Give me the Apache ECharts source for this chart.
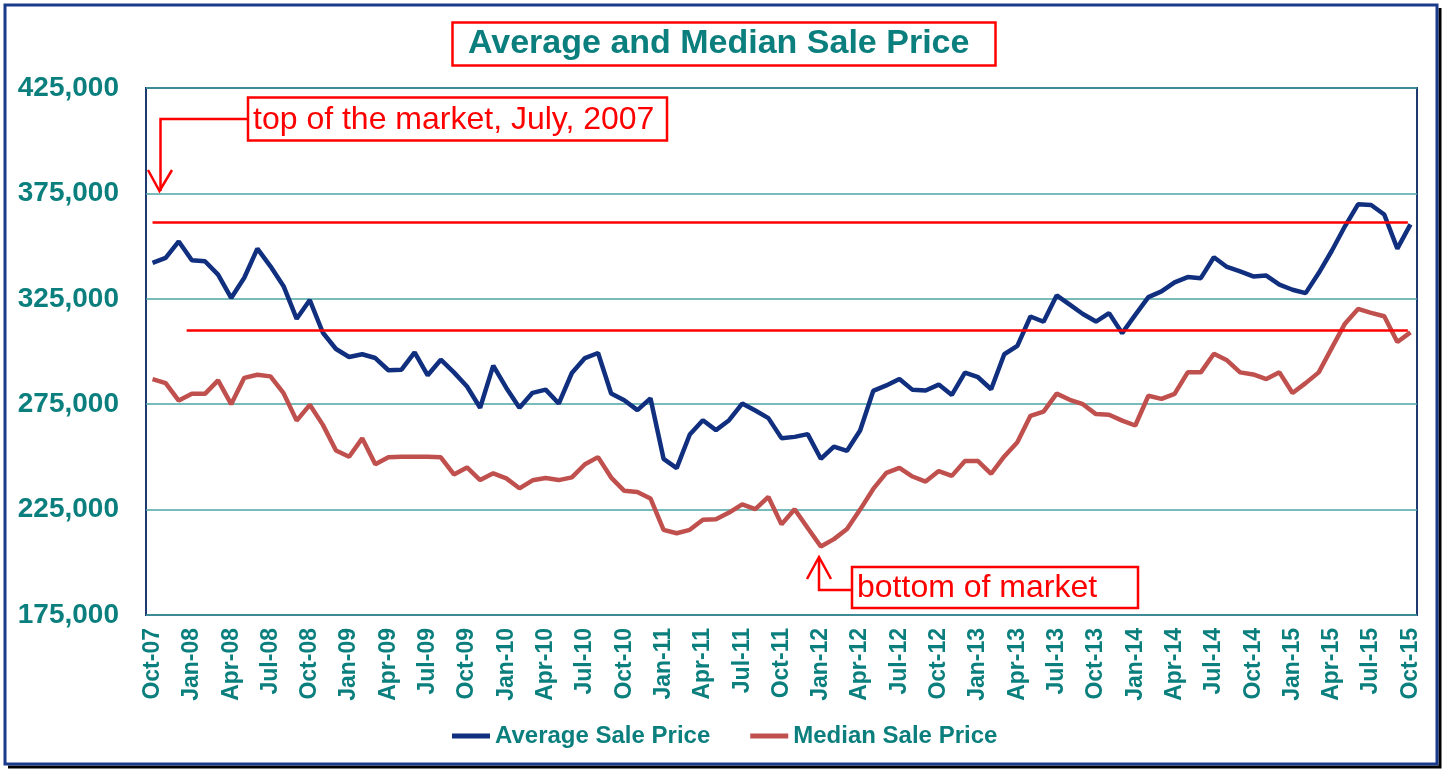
<!DOCTYPE html>
<html>
<head>
<meta charset="utf-8">
<title>Average and Median Sale Price</title>
<script src="https://cdn.jsdelivr.net/npm/echarts@6/dist/echarts.min.js"></script>
<style>
  html, body { margin: 0; padding: 0; background: #ffffff; }
  #main { width: 1444px; height: 769px; }
</style>
</head>
<body>
<div id="main"></div>
<script>
// monthly, Oct-07 .. Oct-15
var monthNames = ['Jan', 'Feb', 'Mar', 'Apr', 'May', 'Jun', 'Jul', 'Aug', 'Sep', 'Oct', 'Nov', 'Dec'];
var startYear = 2007;
var startMonth = 9;
var monthCount = 97;

var averagePrice = [
  342000, 344400, 352200, 343300, 342800, 336500, 325400, 335000, 348800, 340400,
  331000, 315500, 324400, 308900, 301200, 297400, 298700, 296900, 291100, 291400,
  299600, 288700, 296100, 290100, 283400, 273300, 293300, 282700, 273300, 280400,
  281900, 275300, 289800, 296900, 299300, 280100, 276900, 272200, 277800, 249100,
  244700, 260600, 267400, 262700, 267400, 275300, 272000, 268400, 258900, 259500,
  260800, 249100, 254900, 252900, 262500, 281300, 283900, 287000, 281800, 281500,
  284300, 279400, 290000, 287800, 282100, 298700, 302700, 316600, 314100, 326600,
  322200, 317800, 314200, 318200, 308700, 317400, 325800, 328500, 332800, 335300,
  334800, 344700, 340100, 338000, 335600, 336000, 331700, 329300, 327700, 337200,
  347800, 359400, 369800, 369500, 365000, 348800, 360300
];

var medianPrice = [
  286900, 285000, 276700, 279900, 279900, 286300, 275000, 287500, 289000, 288200,
  280200, 267200, 274700, 265200, 253000, 250100, 258800, 246500, 249800, 250100,
  250100, 250100, 249800, 241700, 245000, 239000, 242200, 239800, 235100, 238900,
  240000, 239000, 240300, 246500, 249900, 240200, 233900, 233400, 230300, 215400,
  213800, 215400, 220200, 220400, 223600, 227500, 225200, 231000, 218000, 225200,
  216300, 207500, 211000, 215800, 225000, 234800, 242400, 244800, 240700, 238300,
  243300, 241000, 248000, 248000, 242000, 250200, 257000, 269500, 271500, 280000,
  277100, 275000, 270300, 270000, 267200, 264900, 279000, 277500, 279900, 290100,
  290100, 298900, 295800, 290100, 289100, 286900, 290100, 280300, 285000, 290100,
  301700, 313200, 320200, 318300, 316700, 304500, 309100
];

// red guide lines, [month index, price]
var topLine = [[0, 361200], [95.8, 361200]];
var bottomLine = [[2.6, 310000], [95.8, 310000]];

var months = [];
for (var i = 0; i < monthCount; i++) {
  var m = (startMonth + i) % 12;
  var y = startYear + Math.floor((startMonth + i) / 12);
  months.push(monthNames[m] + '-' + String(y).slice(2));
}

var teal = '#0b7f7d';
var red = '#ff0000';

var chart = echarts.init(document.getElementById('main'));

var option = {
  backgroundColor: '#ffffff',
  animation: false,
  title: {
    text: 'Average and Median Sale Price',
    left: 452,
    top: 22,
    padding: [4, 26, 4, 16],
    borderColor: red,
    borderWidth: 2.5,
    textStyle: {
      color: teal,
      fontFamily: 'Liberation Sans, Arial, sans-serif',
      fontWeight: 'bold',
      fontSize: 34,
      lineHeight: 36
    }
  },
  legend: {
    data: ['Average Sale Price', 'Median Sale Price'],
    left: 447,
    top: 719,
    icon: 'rect',
    itemWidth: 38,
    itemHeight: 5,
    itemGap: 40,
    textStyle: {
      color: teal,
      fontFamily: 'Liberation Sans, Arial, sans-serif',
      fontWeight: 'bold',
      fontSize: 24
    }
  },
  grid: {
    left: 146,
    right: 27,
    top: 88,
    bottom: 154,
    show: true,
    borderColor: '#1d3b6e',
    borderWidth: 2
  },
  xAxis: [{
    type: 'category',
    data: months,
    boundaryGap: true,
    axisLine: { show: false },
    axisTick: { show: false },
    axisLabel: {
      interval: 2,
      rotate: 90,
      margin: 13,
      color: teal,
      fontFamily: 'Liberation Sans, Arial, sans-serif',
      fontWeight: 'bold',
      fontSize: 23
    }
  }, {
    type: 'value',
    min: -0.5,
    max: 96.5,
    show: false
  }],
  yAxis: {
    type: 'value',
    min: 175000,
    max: 425000,
    interval: 50000,
    axisLine: { show: false },
    axisTick: { show: false },
    axisLabel: {
      margin: 27,
      color: teal,
      fontFamily: 'Liberation Sans, Arial, sans-serif',
      fontWeight: 'bold',
      fontSize: 28,
      formatter: function (v) { return v.toLocaleString('en-US'); }
    },
    splitLine: { lineStyle: { color: '#4aa5a5', width: 1.5 } }
  },
  series: [{
    name: 'Average Sale Price',
    type: 'line',
    data: averagePrice,
    symbol: 'none',
    color: '#112f7f',
    lineStyle: { width: 4.5, color: '#112f7f' },
    z: 3
  }, {
    name: 'Median Sale Price',
    type: 'line',
    data: medianPrice,
    symbol: 'none',
    color: '#c0504d',
    lineStyle: { width: 4.5, color: '#c0504d' },
    z: 3
  }, {
    name: 'top',
    type: 'line',
    xAxisIndex: 1,
    data: topLine,
    symbol: 'none',
    lineStyle: { width: 2.5, color: red },
    z: 4
  }, {
    name: 'bottom',
    type: 'line',
    xAxisIndex: 1,
    data: bottomLine,
    symbol: 'none',
    lineStyle: { width: 2.5, color: red },
    z: 4
  }],
  graphic: [
    // outer frame with shadow
    {
      type: 'polyline',
      shape: { points: [[1440, 8], [1440, 767], [8, 767]] },
      style: { stroke: '#000000', lineWidth: 3, fill: null },
      silent: true
    },
    {
      type: 'rect',
      shape: { x: 5, y: 5, width: 1432, height: 759 },
      style: { stroke: '#1a3a8c', lineWidth: 3, fill: null },
      silent: true
    },
    // top of the market note
    {
      type: 'polyline',
      shape: { points: [[248, 119], [160.5, 119], [160.5, 191]] },
      style: { stroke: red, lineWidth: 2.5, fill: null },
      z: 10
    },
    {
      type: 'polyline',
      shape: { points: [[148, 170], [159.5, 191], [172, 170]] },
      style: { stroke: red, lineWidth: 2.5, fill: null },
      z: 10
    },
    {
      type: 'rect',
      shape: { x: 248, y: 97.5, width: 419, height: 43 },
      style: { stroke: red, lineWidth: 2.5, fill: '#ffffff' },
      z: 10
    },
    {
      type: 'text',
      x: 253,
      y: 120,
      style: {
        text: 'top of the market, July, 2007',
        fill: red,
        font: '32px "Liberation Sans", Arial, sans-serif',
        verticalAlign: 'middle'
      },
      z: 11
    },
    // bottom of market note
    {
      type: 'polyline',
      shape: { points: [[852, 590], [819, 590], [819, 558]] },
      style: { stroke: red, lineWidth: 2.5, fill: null },
      z: 10
    },
    {
      type: 'polyline',
      shape: { points: [[807, 579], [819, 557], [831, 579]] },
      style: { stroke: red, lineWidth: 2.5, fill: null },
      z: 10
    },
    {
      type: 'rect',
      shape: { x: 852, y: 567, width: 286, height: 41 },
      style: { stroke: red, lineWidth: 2.5, fill: '#ffffff' },
      z: 10
    },
    {
      type: 'text',
      x: 857,
      y: 588,
      style: {
        text: 'bottom of market',
        fill: red,
        font: '32px "Liberation Sans", Arial, sans-serif',
        verticalAlign: 'middle'
      },
      z: 11
    }
  ]
};

chart.setOption(option);
</script>
</body>
</html>
